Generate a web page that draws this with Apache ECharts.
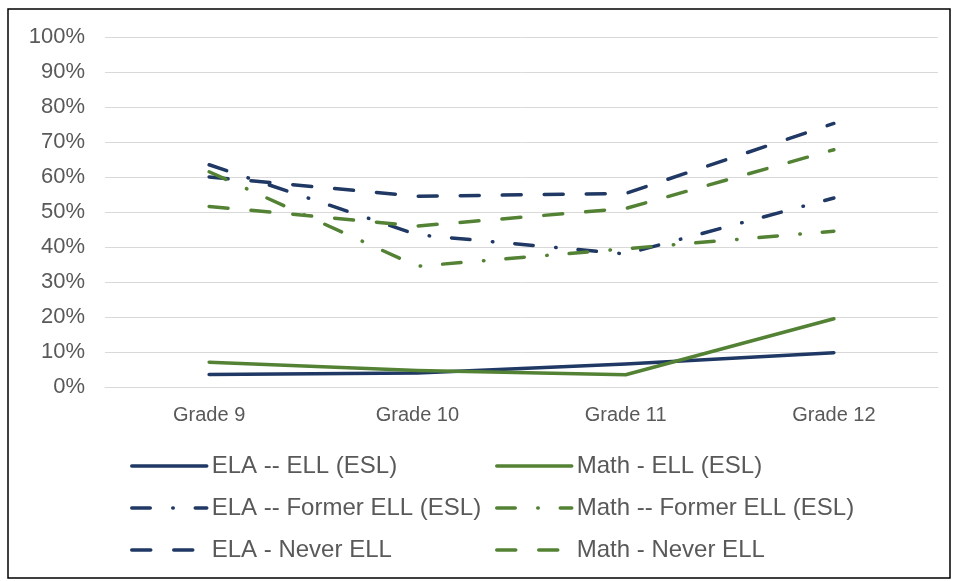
<!DOCTYPE html>
<html>
<head>
<meta charset="utf-8">
<script src="https://cdn.jsdelivr.net/npm/echarts@6/dist/echarts.min.js"></script>
<style>
    html, body { margin: 0; padding: 0; background: #fff; }
    #chart { width: 954px; height: 581px; }
</style>
</head>
<body>
<div id="chart"></div>
<script>
'use strict';
// values, in percent
var grades = ['Grade 9', 'Grade 10', 'Grade 11', 'Grade 12'];
var elaEll = [3.6, 4.0, 6.6, 9.8];
var mathEll = [7.1, 4.7, 3.5, 19.5];
var elaFormer = [63.5, 43.5, 38.0, 54.0];
var mathFormer = [61.5, 34.5, 39.5, 44.5];
var elaNever = [60.0, 54.5, 55.3, 75.3];
var mathNever = [51.6, 46.0, 51.0, 67.8];

var NAVY = '#1F3864';
var GREEN = '#548235';
var TEXT = '#595959';

var solid = 'solid';
var dashDot = [18.5, 22.5, 0.5, 22];
var dashed = [19, 23];

function lineSeries(name, data, color, type) {
    return {
        name: name,
        type: 'line',
        data: data,
        symbol: 'none',
        lineStyle: {color: color, width: 3.5, type: type, cap: 'round', join: 'round'},
        itemStyle: {color: color},
        emphasis: {disabled: true}
    };
}

var chart = echarts.init(document.getElementById('chart'));

var legendBase = {
    orient: 'vertical',
    top: 454,
    padding: 0,
    itemWidth: 75,
    itemHeight: 20,
    itemGap: 18,
    itemStyle: {opacity: 0},
    lineStyle: {width: 3.5},
    textStyle: {color: TEXT, fontSize: 24, fontFamily: 'Liberation Sans, Arial, sans-serif'}
};

chart.setOption({
    animation: false,
    textStyle: {fontFamily: 'Liberation Sans, Arial, sans-serif'},
    graphic: [{
        type: 'rect',
        shape: {x: 8, y: 9, width: 942, height: 569},
        style: {fill: 'none', stroke: '#000', lineWidth: 1.5},
        silent: true
    }],
    grid: {left: 105, right: 16, top: 37, bottom: 194},
    legend: [
        Object.assign({}, legendBase, {
            left: 130,
            data: ['ELA -- ELL (ESL)', 'ELA -- Former ELL (ESL)', 'ELA - Never ELL']
        }),
        Object.assign({}, legendBase, {
            left: 495,
            data: ['Math - ELL (ESL)', 'Math -- Former ELL (ESL)', 'Math - Never ELL']
        })
    ],
    xAxis: {
        type: 'category',
        data: grades,
        boundaryGap: true,
        axisLine: {show: true, lineStyle: {color: '#D9D9D9', width: 1}},
        axisTick: {show: false},
        axisLabel: {color: TEXT, fontSize: 20, margin: 18}
    },
    yAxis: {
        type: 'value',
        min: 0,
        max: 100,
        interval: 10,
        axisLine: {show: false},
        axisTick: {show: false},
        splitLine: {lineStyle: {color: '#D9D9D9', width: 1}},
        axisLabel: {color: TEXT, fontSize: 22, margin: 20, formatter: '{value}%'}
    },
    series: [
        lineSeries('ELA -- ELL (ESL)', elaEll, NAVY, solid),
        lineSeries('ELA -- Former ELL (ESL)', elaFormer, NAVY, dashDot),
        lineSeries('ELA - Never ELL', elaNever, NAVY, dashed),
        lineSeries('Math - ELL (ESL)', mathEll, GREEN, solid),
        lineSeries('Math -- Former ELL (ESL)', mathFormer, GREEN, dashDot),
        lineSeries('Math - Never ELL', mathNever, GREEN, dashed)
    ]
});
</script>
</body>
</html>
